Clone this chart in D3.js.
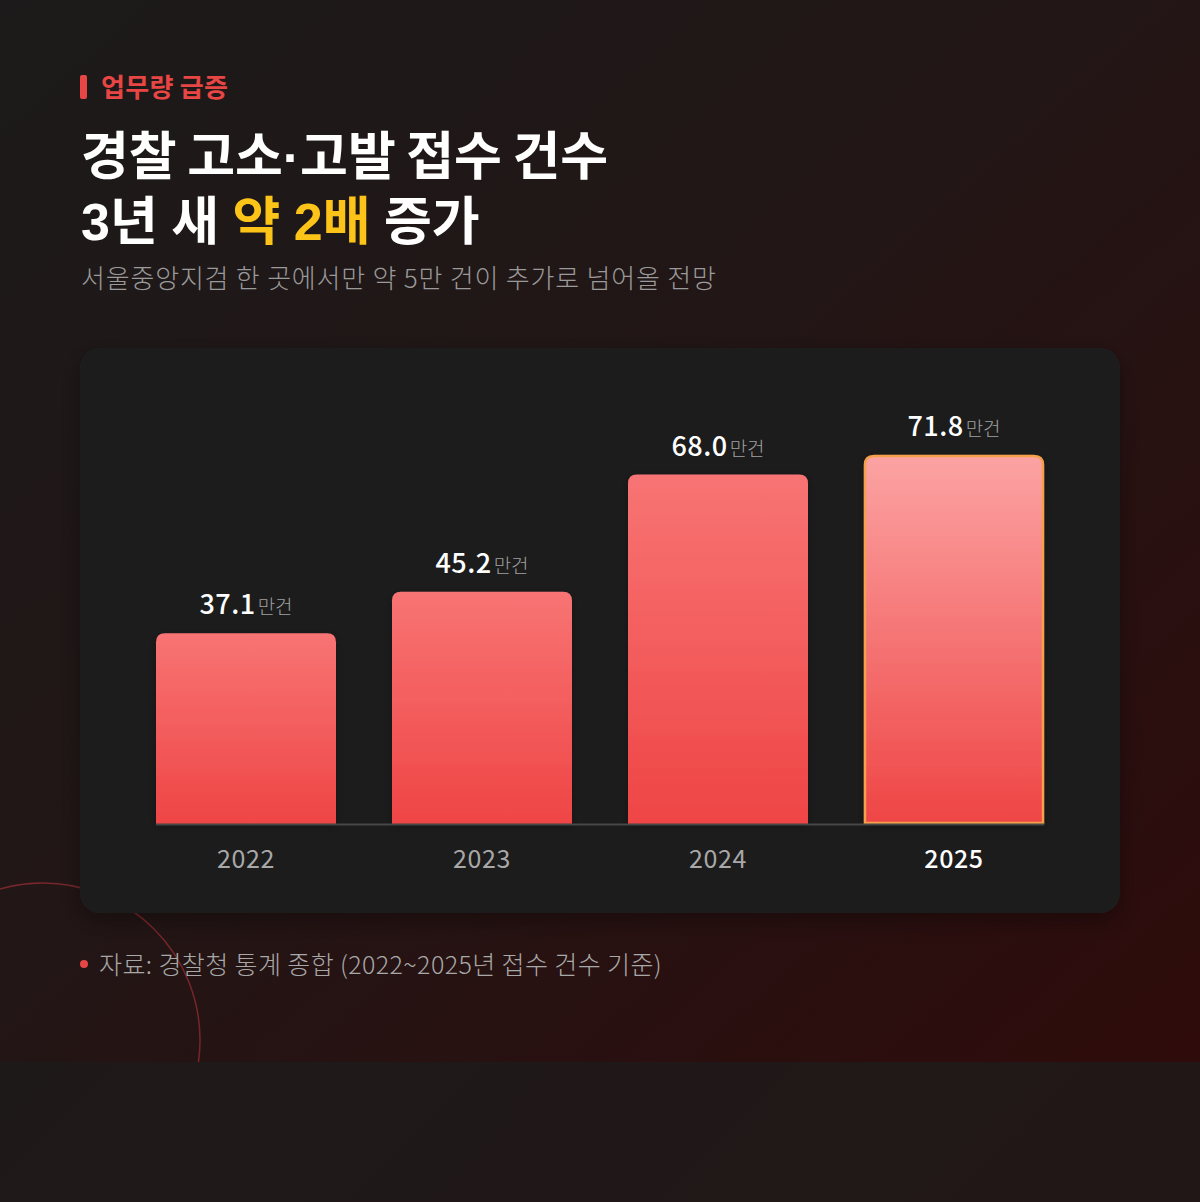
<!DOCTYPE html>
<html><head><meta charset="utf-8">
<script src="https://cdn.jsdelivr.net/npm/d3@7"></script>
<style>
html,body{margin:0;padding:0;background:#1b1a1a;}
svg{display:block;font-family:"Noto Sans CJK KR","Noto Sans",sans-serif;}
</style></head>
<body>
<svg id="chart" width="1200" height="1202"></svg>
<script>
const years = ["2022","2023","2024","2025"];
const values = [37.1, 45.2, 68.0, 71.8];
const unitLabel = "만건";
const tagText = "업무량 급증";
const titleLine1 = "경찰 고소·고발 접수 건수";
const titleLine2 = [["3년 새 ", "#ffffff"], ["약 2배", "#fcc419"], [" 증가", "#ffffff"]];
const subtitle = "서울중앙지검 한 곳에서만 약 5만 건이 추가로 넘어올 전망";
const footnote = "자료: 경찰청 통계 종합 (2022~2025년 접수 건수 기준)";

const svg = d3.select("#chart");
const defs = svg.append("defs");

// backgrounds
const bgBottom = defs.append("linearGradient").attr("id","bgBottom").attr("x1",0).attr("y1",0).attr("x2",1).attr("y2",1);
bgBottom.append("stop").attr("offset","0").attr("stop-color","#1b1b1b");
bgBottom.append("stop").attr("offset","1").attr("stop-color","#221717");
svg.append("rect").attr("width",1200).attr("height",1202).attr("fill","url(#bgBottom)");

const bgMain = defs.append("linearGradient").attr("id","bgMain").attr("x1",0).attr("y1",0).attr("x2",1).attr("y2",1);
bgMain.append("stop").attr("offset","0").attr("stop-color","#1c1a1a");
bgMain.append("stop").attr("offset","0.45").attr("stop-color","#221616");
bgMain.append("stop").attr("offset","1").attr("stop-color","#2f0b0b");
svg.append("rect").attr("width",1200).attr("height",1062).attr("fill","url(#bgMain)");

// decorative circle
defs.append("clipPath").attr("id","mainClip").append("rect").attr("width",1200).attr("height",1062);
svg.append("circle").attr("cx",43).attr("cy",1040).attr("r",157)
  .attr("fill","none").attr("stroke","rgba(220,60,70,0.45)").attr("stroke-width",1.5)
  .attr("clip-path","url(#mainClip)");

// tag
svg.append("rect").attr("x",80).attr("y",75).attr("width",7).attr("height",24).attr("rx",2).attr("fill","#e84545");
svg.append("text").attr("x",101).attr("y",97).attr("font-size",26).attr("font-weight",700)
  .attr("letter-spacing",0.3).attr("fill","#e84545").text(tagText);

// title (Latin primary font keeps line boxes compact; Hangul falls back to Noto Sans CJK)
const titleFont = "'Liberation Sans','Noto Sans CJK KR',sans-serif";
svg.append("text").attr("x",81).attr("y",175).attr("font-family",titleFont)
  .attr("font-size",52).attr("font-weight",700).attr("word-spacing",-4).attr("fill","#ffffff").text(titleLine1);
const t2 = svg.append("text").attr("x",81).attr("y",240).attr("font-family",titleFont)
  .attr("font-size",52).attr("font-weight",700).attr("word-spacing",-1).attr("xml:space","preserve");
titleLine2.forEach(([s,c]) => t2.append("tspan").attr("fill",c).text(s));

svg.append("text").attr("x",81).attr("y",288).attr("font-size",26).attr("font-weight",300)
  .attr("letter-spacing",0.8).attr("fill","#9a9a9a").text(subtitle);

// card
const shadow = defs.append("filter").attr("id","cardShadow").attr("x","-10%").attr("y","-10%").attr("width","120%").attr("height","130%");
shadow.append("feDropShadow").attr("dx",0).attr("dy",8).attr("stdDeviation",12).attr("flood-color","#000").attr("flood-opacity",0.35);
svg.append("rect").attr("x",80).attr("y",348).attr("width",1040).attr("height",565).attr("rx",20)
  .attr("fill","#1f1f1f").attr("filter","url(#cardShadow)");

// scales
const x = d3.scaleBand().domain(years).range([128, 1072]).paddingInner(56/236).paddingOuter(28/236);
const y = d3.scaleLinear().domain([0, 71.8]).range([824, 455]);

const gNorm = defs.append("linearGradient").attr("id","barNorm").attr("x1",0).attr("y1",0).attr("x2",0).attr("y2",1);
gNorm.append("stop").attr("offset","0").attr("stop-color","#f87474");
gNorm.append("stop").attr("offset","1").attr("stop-color","#ef4545");
const gHi = defs.append("linearGradient").attr("id","barHi").attr("x1",0).attr("y1",0).attr("x2",0).attr("y2",1);
gHi.append("stop").attr("offset","0").attr("stop-color","#fca3a3");
gHi.append("stop").attr("offset","1").attr("stop-color","#ef4545");
const glow = defs.append("filter").attr("id","barGlow").attr("x","-20%").attr("y","-20%").attr("width","140%").attr("height","140%");
glow.append("feDropShadow").attr("dx",0).attr("dy",2).attr("stdDeviation",4).attr("flood-color","#000").attr("flood-opacity",0.3);

function barPath(x0, y0, w, h, r) {
  const p = d3.path();
  p.moveTo(x0, y0 + h);
  p.lineTo(x0, y0 + r);
  p.quadraticCurveTo(x0, y0, x0 + r, y0);
  p.lineTo(x0 + w - r, y0);
  p.quadraticCurveTo(x0 + w, y0, x0 + w, y0 + r);
  p.lineTo(x0 + w, y0 + h);
  p.closePath();
  return p.toString();
}

const last = years.length - 1;
const bars = svg.append("g");
years.forEach((yr, i) => {
  const bx = x(yr), bw = x.bandwidth(), by = y(values[i]), bh = y(0) - y(values[i]);
  const hi = i === last;
  bars.append("path")
    .attr("d", hi ? barPath(bx+1, by+1, bw-2, bh-2, 9) : barPath(bx, by, bw, bh, 9))
    .attr("fill", hi ? "url(#barHi)" : "url(#barNorm)")
    .attr("stroke", hi ? "#f7a04b" : "none")
    .attr("stroke-width", hi ? 2.5 : 0)
    .attr("filter", "url(#barGlow)");
});

// baseline
svg.append("line").attr("x1",x(years[0])).attr("x2",x(years[last])+x.bandwidth())
  .attr("y1",y(0)+0.5).attr("y2",y(0)+0.5).attr("stroke","#474747").attr("stroke-width",2);

// value labels
years.forEach((yr, i) => {
  const t = svg.append("text").attr("x", x(yr) + x.bandwidth()/2).attr("y", y(values[i]) - 19)
    .attr("text-anchor","middle");
  t.append("tspan").attr("font-size",27).attr("font-weight",500).attr("letter-spacing",0.5).attr("fill","#ffffff").text(values[i].toFixed(1));
  t.append("tspan").attr("font-size",19).attr("font-weight",300).attr("dx",2).attr("fill","#a0a0a0").text(unitLabel);
});

// x axis
const xAxis = svg.append("g").attr("transform",`translate(0,${y(0)})`).call(d3.axisBottom(x).tickSize(0).tickPadding(26));
xAxis.select(".domain").remove();
xAxis.selectAll("text")
  .attr("font-family","'Noto Sans CJK KR','Noto Sans',sans-serif")
  .attr("font-size",25)
  .attr("letter-spacing",0.6)
  .attr("font-weight",(d,i)=> i===last ? 500 : 400)
  .attr("fill",(d,i)=> i===last ? "#ffffff" : "#a8a8a8");

// footnote
svg.append("circle").attr("cx",84).attr("cy",964).attr("r",4).attr("fill","#e84545");
svg.append("text").attr("x",99).attr("y",974).attr("font-size",25).attr("font-weight",300)
  .attr("letter-spacing",0.4).attr("fill","#a8a8a8").text(footnote);
</script>
</body></html>
